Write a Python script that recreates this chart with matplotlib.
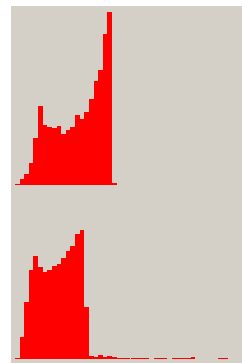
import numpy as np
import matplotlib
matplotlib.use('Agg')
import matplotlib.pyplot as plt

# bin counts (same scale for both panels)
top_counts = [2, 19, 32, 65, 140, 237, 181, 173, 170, 176, 154, 164, 174,
              210, 198, 219, 258, 312, 345, 452, 519, 5]
bottom_counts = [3, 66, 173, 268, 310, 277, 263, 269, 280, 285, 304, 325, 339,
                 377, 388, 157, 10, 6, 12, 7, 10, 6, 5,
                 4, 3, 4, 3, 5, 5, 2, 4, 3, 5, 2, 5, 5, 3, 3, 6, 2,
                 1, 1, 1, 1, 4, 4, 1, 1, 1, 1]

W, H = 242, 363
bg = '#d4d0c8'
bar_color = '#ff0000'

fig = plt.figure(figsize=(W / 100, H / 100), dpi=100)
fig.patch.set_facecolor('white')

# gray panel behind both histograms
back = fig.add_axes([11 / W, 0, 1 - 11 / W, 1 - 6 / H])
back.set_facecolor(bg)
back.set_xticks([])
back.set_yticks([])
for s in back.spines.values():
    s.set_visible(False)

bin_px = 4.62
x0 = 15
nbins = (W - x0) / bin_px


def hist_axes(y_top, y_base, counts):
    ax = fig.add_axes([x0 / W, 1 - y_base / H, (W - x0) / W, (y_base - y_top) / H])
    ax.patch.set_alpha(0)
    ax.bar(np.arange(len(counts)), counts, width=1, align='edge',
           color=bar_color, linewidth=0)
    ax.set_xlim(0, nbins)
    ax.set_ylim(0, max(counts))
    ax.set_xticks([])
    ax.set_yticks([])
    for s in ax.spines.values():
        s.set_visible(False)
    return ax


hist_axes(12, 185, top_counts)
hist_axes(230, 359.3, bottom_counts)

fig.savefig('out.png', dpi=100)
